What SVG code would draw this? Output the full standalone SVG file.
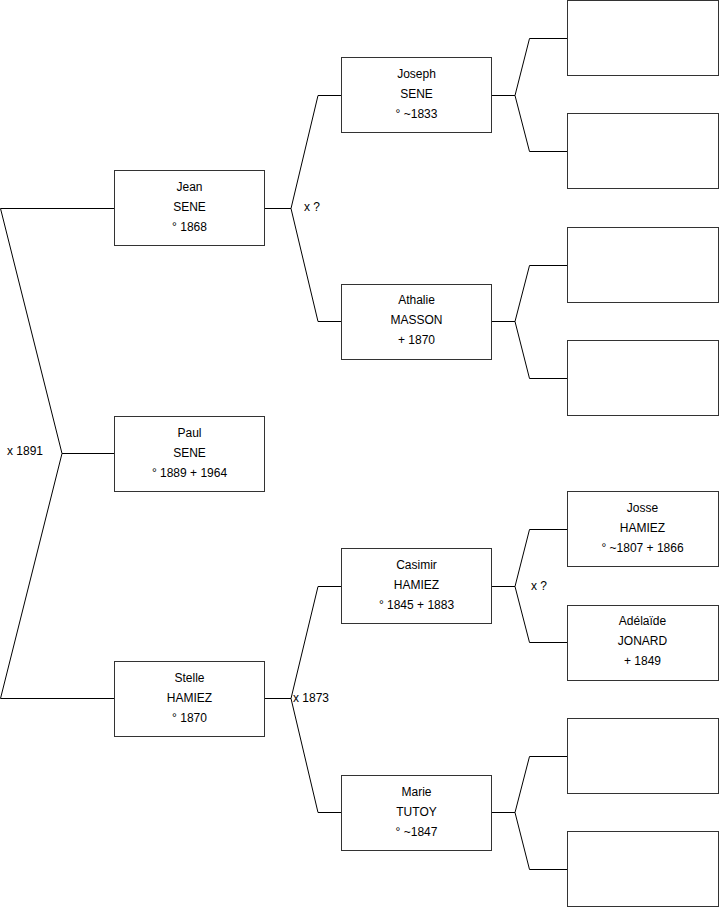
<svg xmlns="http://www.w3.org/2000/svg" width="719" height="908" viewBox="0 0 719 908">
<style>
.box{fill:#fff;stroke:#333;stroke-width:1}
.ln{fill:none;stroke:#000;stroke-width:1}
text{font-family:"Liberation Sans",Arial,sans-serif;font-size:12px;fill:#000}
.c{text-anchor:middle}
</style>
<rect x="0" y="0" width="719" height="908" fill="#fff"/>
<g id="connectors">
<path class="ln" d="M114,208.5H0.5L62,453.5L0.5,698.5H114M62,453.5H114"/>
<path class="ln" d="M265,208.5H291L318,95.5H341M291,208.5L318,321.5H341"/>
<path class="ln" d="M265,698.5H291L318,586.5H341M291,698.5L318,812.5H341"/>
<path class="ln" d="M492,95.5H515L529.5,38.5H567M515,95.5L529.5,151.5H567"/>
<path class="ln" d="M492,321.5H515L529.5,265.5H567M515,321.5L529.5,378.5H567"/>
<path class="ln" d="M492,586.5H515L529.5,529.5H567M515,586.5L529.5,642.5H567"/>
<path class="ln" d="M492,812.5H515L529.5,756.5H567M515,812.5L529.5,869.5H567"/>
<text x="7" y="455">x 1891</text>
<text x="304" y="211">x ?</text>
<text x="293" y="702">x 1873</text>
<text x="531" y="590">x ?</text>
</g>
<g id="jean"><rect class="box" x="114.5" y="170.5" width="150" height="75"/><text class="c" x="189.5" y="191">Jean</text><text class="c" x="189.5" y="211">SENE</text><text class="c" x="189.5" y="231">° 1868</text></g>
<g id="paul"><rect class="box" x="114.5" y="416.5" width="150" height="75"/><text class="c" x="189.5" y="437">Paul</text><text class="c" x="189.5" y="457">SENE</text><text class="c" x="189.5" y="477">° 1889 + 1964</text></g>
<g id="stelle"><rect class="box" x="114.5" y="661.5" width="150" height="75"/><text class="c" x="189.5" y="682">Stelle</text><text class="c" x="189.5" y="702">HAMIEZ</text><text class="c" x="189.5" y="722">° 1870</text></g>
<g id="joseph"><rect class="box" x="341.5" y="57.5" width="150" height="75"/><text class="c" x="416.5" y="78">Joseph</text><text class="c" x="416.5" y="98">SENE</text><text class="c" x="416.5" y="118">° ~1833</text></g>
<g id="athalie"><rect class="box" x="341.5" y="284.5" width="150" height="75"/><text class="c" x="416.5" y="304">Athalie</text><text class="c" x="416.5" y="324">MASSON</text><text class="c" x="416.5" y="344">+ 1870</text></g>
<g id="casimir"><rect class="box" x="341.5" y="548.5" width="150" height="75"/><text class="c" x="416.5" y="569">Casimir</text><text class="c" x="416.5" y="589">HAMIEZ</text><text class="c" x="416.5" y="609">° 1845 + 1883</text></g>
<g id="marie"><rect class="box" x="341.5" y="775.5" width="150" height="75"/><text class="c" x="416.5" y="796">Marie</text><text class="c" x="416.5" y="816">TUTOY</text><text class="c" x="416.5" y="836">° ~1847</text></g>
<g id="r1"><rect class="box" x="567.5" y="0.5" width="151" height="75"/></g>
<g id="r2"><rect class="box" x="567.5" y="113.5" width="151" height="75"/></g>
<g id="r3"><rect class="box" x="567.5" y="227.5" width="151" height="75"/></g>
<g id="r4"><rect class="box" x="567.5" y="340.5" width="151" height="75"/></g>
<g id="josse"><rect class="box" x="567.5" y="491.5" width="151" height="75"/><text class="c" x="642.5" y="512">Josse</text><text class="c" x="642.5" y="532">HAMIEZ</text><text class="c" x="642.5" y="552">° ~1807 + 1866</text></g>
<g id="adelaide"><rect class="box" x="567.5" y="605.5" width="151" height="75"/><text class="c" x="642.5" y="625">Adélaïde</text><text class="c" x="642.5" y="645">JONARD</text><text class="c" x="642.5" y="665">+ 1849</text></g>
<g id="r7"><rect class="box" x="567.5" y="718.5" width="151" height="75"/></g>
<g id="r8"><rect class="box" x="567.5" y="831.5" width="151" height="75"/></g>
</svg>
